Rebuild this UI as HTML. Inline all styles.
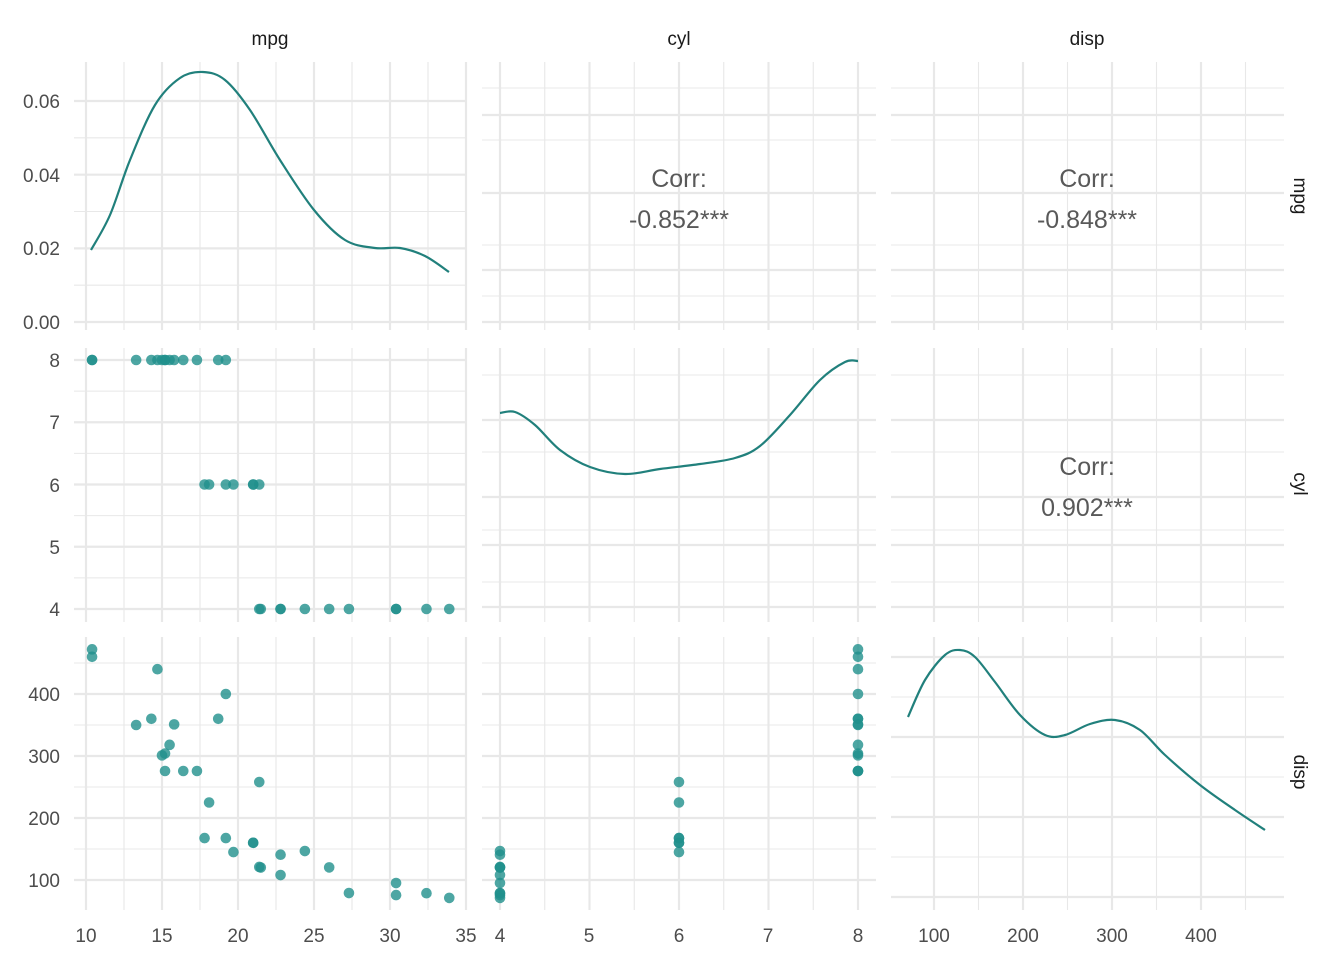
<!DOCTYPE html>
<html><head><meta charset="utf-8"><style>
html,body{margin:0;padding:0;background:#fff;}
svg{display:block;font-family:"Liberation Sans",Arial,sans-serif;}
</style></head><body>
<svg id="s" width="1344" height="960" xmlns="http://www.w3.org/2000/svg"></svg>
<script>
const s=document.getElementById('s');let h='';
const cols=[[74,467],[482,876],[891,1284]];
const rows=[[62,330],[348,622],[637,910]];
const fx=[v=>86+(v-10)*15.2, v=>500+(v-4)*89.5, v=>934+(v-100)*0.89];
const fy=[v=>322-v*3683, v=>360+(8-v)*62.25, v=>880-(v-100)*0.62];
const xt=[[10,15,20,25,30,35],[4,5,6,7,8],[100,200,300,400]];
const xm=[[12.5,17.5,22.5,27.5,32.5],[4.5,5.5,6.5,7.5],[50,150,250,350,450]];
const yt=[[0,0.02,0.04,0.06],[4,5,6,7,8],[100,200,300,400]];
const ym=[[0.01,0.03,0.05],[4.5,5.5,6.5,7.5],[50,150,250,350,450]];
function line(x1,y1,x2,y2,w){h+=`<line x1="${x1}" y1="${y1}" x2="${x2}" y2="${y2}" stroke="#e8e8e8" stroke-width="${w}"/>`;}
for(let r=0;r<3;r++)for(let c=0;c<3;c++){
 const [x0,x1]=cols[c],[y0,y1]=rows[r];
 xm[c].forEach(v=>{const x=fx[c](v);if(x>x0&&x<x1)line(x,y0,x,y1,1.1);});
 xt[c].forEach(v=>{const x=fx[c](v);if(x>=x0-1&&x<=x1+1)line(x,y0,x,y1,2.2);});
 let ys=yt[r], yms=ym[r];
 if(c>r){
   if(r==0){yms=[88,140,245,296];ys=[115,193,270,322];}
   else {yms=[375,452,530,582];ys=[420,497,545,607];}
   yms.forEach(y=>line(x0,y,x1,y,1.1));ys.forEach(y=>line(x0,y,x1,y,2.2));
 } else if(r==c && r>0){
   if(r==1){[375,452,530,582].forEach(y=>line(x0,y,x1,y,1.1));[420,497,545,607].forEach(y=>line(x0,y,x1,y,2.2));}
   else {[697,777,857].forEach(y=>line(x0,y,x1,y,1.1));[657,737,817,897].forEach(y=>line(x0,y,x1,y,2.2));}
 } else {
   yms.forEach(v=>{const y=fy[r](v);if(y>y0&&y<y1)line(x0,y,x1,y,1.1);});
   ys.forEach(v=>{const y=fy[r](v);if(y>=y0-1&&y<=y1+1)line(x0,y,x1,y,2.2);});
 }
}
const T=(x,y,t,a,sz,col)=>h+=`<text x="${x}" y="${y}" text-anchor="${a}" font-size="${sz}" fill="${col||'#4d4d4d'}">${t}</text>`;
[['10',86],['15',162],['20',238],['25',314],['30',390],['35',466],['4',500],['5',589],['6',679],['7',768],['8',858],['100',934],['200',1023],['300',1112],['400',1201]].forEach(([t,x])=>T(x,942,t,'middle',19));
[['0.00',322],['0.02',248],['0.04',175],['0.06',101],['4',609],['5',547],['6',485],['7',422],['8',360],['100',880],['200',818],['300',756],['400',694]].forEach(([t,y])=>T(60,y+7,t,'end',19));
T(270,45,'mpg','middle',19,'#1a1a1a');T(679,45,'cyl','middle',19,'#1a1a1a');T(1087,45,'disp','middle',19,'#1a1a1a');
[['mpg',196],['cyl',484],['disp',772]].forEach(([t,y])=>h+=`<text transform="translate(1294,${y}) rotate(90)" text-anchor="middle" font-size="19" fill="#1a1a1a">${t}</text>`);
[[679,178,'-0.852***'],[1087,178,'-0.848***'],[1087,466,'0.902***']].forEach(([x,y,v])=>{T(x,y+9,'Corr:','middle',25,'#595959');T(x,y+50,v,'middle',25,'#595959');});
function smooth(p){let d=`M${p[0][0]},${p[0][1]}`;for(let i=0;i<p.length-1;i++){const a=p[Math.max(i-1,0)],b=p[i],c=p[i+1],e=p[Math.min(i+2,p.length-1)];d+=` C${b[0]+(c[0]-a[0])/6},${b[1]+(c[1]-a[1])/6} ${c[0]-(e[0]-b[0])/6},${c[1]-(e[1]-b[1])/6} ${c[0]},${c[1]}`;}h+=`<path d="${d}" fill="none" stroke="#21807c" stroke-width="2.2"/>`;}
smooth([[91,250],[110,215],[130,160],[155,105],[180,78],[203,72],[225,80],[250,110],[280,160],[314,210],[345,240],[375,248],[400,248],[425,256],[449,272]]);
smooth([[500,413],[515,412],[535,425],[560,450],[590,467],[625,474],[660,469],[700,464],[735,458],[760,446],[790,415],[820,380],[845,362],[858,361]]);
smooth([[908,717],[925,680],[945,655],[960,650],[975,657],[995,682],[1020,715],[1045,735],[1065,735],[1090,724],[1115,720],[1140,730],[1165,755],[1200,785],[1235,810],[1265,830]]);
const D=[[21,6,160],[21,6,160],[22.8,4,108],[21.4,6,258],[18.7,8,360],[18.1,6,225],[14.3,8,360],[24.4,4,146.7],[22.8,4,140.8],[19.2,6,167.6],[17.8,6,167.6],[16.4,8,275.8],[17.3,8,275.8],[15.2,8,275.8],[10.4,8,472],[10.4,8,460],[14.7,8,440],[32.4,4,78.7],[30.4,4,75.7],[33.9,4,71.1],[21.5,4,120.1],[15.5,8,318],[15.2,8,304],[13.3,8,350],[19.2,8,400],[27.3,4,79],[26,4,120.3],[30.4,4,95.1],[15.8,8,351],[19.7,6,145],[15,8,301],[21.4,4,121]];
const pt=(x,y)=>h+=`<circle cx="${x}" cy="${y}" r="5.3" fill="#21908c" fill-opacity="0.8"/>`;
D.forEach(d=>{pt(fx[0](d[0]),fy[1](d[1]));pt(fx[0](d[0]),fy[2](d[2]));pt(fx[1](d[1]),fy[2](d[2]));});
s.innerHTML=h;
</script>
</body></html>
